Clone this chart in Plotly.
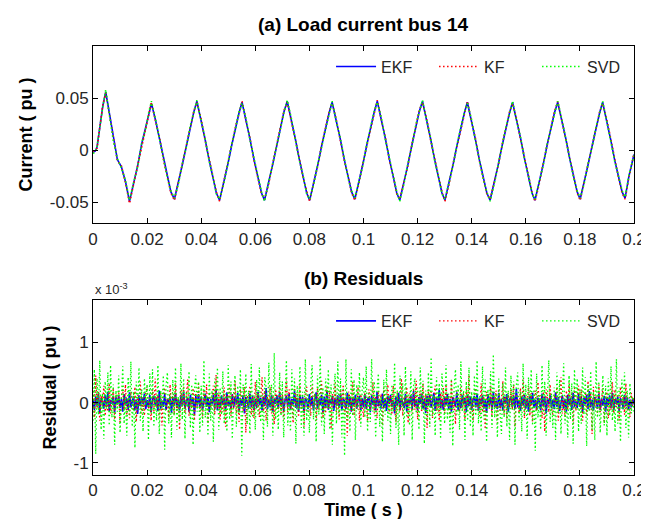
import plotly.graph_objects as go
from plotly.subplots import make_subplots

# ---------------- (a) Load current bus 14 ----------------
time_a = [
    0.0000, 0.0008, 0.0015, 0.0025, 0.0036, 0.0047,
    0.0060, 0.0075, 0.0090, 0.0105, 0.0120, 0.0135,
    0.0150, 0.0165, 0.0180, 0.0195, 0.0206, 0.0216,
    0.0231, 0.0246, 0.0261, 0.0276, 0.0288, 0.0301,
    0.0316, 0.0331, 0.0346, 0.0361, 0.0373, 0.0384,
    0.0399, 0.0414, 0.0429, 0.0444, 0.0456, 0.0468,
    0.0483, 0.0498, 0.0513, 0.0528, 0.0540, 0.0551,
    0.0566, 0.0581, 0.0596, 0.0611, 0.0623, 0.0634,
    0.0649, 0.0664, 0.0679, 0.0694, 0.0706, 0.0718,
    0.0733, 0.0748, 0.0763, 0.0778, 0.0790, 0.0801,
    0.0816, 0.0831, 0.0846, 0.0861, 0.0873, 0.0884,
    0.0899, 0.0914, 0.0929, 0.0944, 0.0956, 0.0968,
    0.0983, 0.0998, 0.1013, 0.1028, 0.1040, 0.1051,
    0.1066, 0.1081, 0.1096, 0.1111, 0.1123, 0.1134,
    0.1149, 0.1164, 0.1179, 0.1194, 0.1206, 0.1218,
    0.1233, 0.1248, 0.1263, 0.1278, 0.1290, 0.1301,
    0.1316, 0.1331, 0.1346, 0.1361, 0.1373, 0.1384,
    0.1399, 0.1414, 0.1429, 0.1444, 0.1456, 0.1468,
    0.1483, 0.1498, 0.1513, 0.1528, 0.1540, 0.1551,
    0.1566, 0.1581, 0.1596, 0.1611, 0.1623, 0.1634,
    0.1649, 0.1664, 0.1679, 0.1694, 0.1706, 0.1718,
    0.1733, 0.1748, 0.1763, 0.1778, 0.1790, 0.1801,
    0.1816, 0.1831, 0.1846, 0.1861, 0.1873, 0.1884,
    0.1899, 0.1914, 0.1929, 0.1944, 0.1956, 0.1967,
    0.1982, 0.2000,
]

current_ekf = [
    -0.002, -0.001, 0.003, 0.022, 0.042, 0.056,
    0.036, 0.010, -0.009, -0.016, -0.030, -0.049,
    -0.032, -0.015, 0.006, 0.022, 0.035, 0.045,
    0.029, 0.011, -0.009, -0.027, -0.040, -0.047,
    -0.031, -0.013, 0.005, 0.024, 0.037, 0.047,
    0.030, 0.011, -0.009, -0.027, -0.041, -0.048,
    -0.032, -0.014, 0.005, 0.023, 0.036, 0.046,
    0.029, 0.010, -0.010, -0.028, -0.041, -0.048,
    -0.032, -0.014, 0.004, 0.023, 0.037, 0.047,
    0.030, 0.011, -0.009, -0.027, -0.041, -0.048,
    -0.032, -0.014, 0.005, 0.023, 0.036, 0.046,
    0.029, 0.011, -0.009, -0.027, -0.040, -0.047,
    -0.031, -0.013, 0.006, 0.024, 0.037, 0.047,
    0.030, 0.011, -0.009, -0.027, -0.041, -0.048,
    -0.032, -0.014, 0.005, 0.024, 0.037, 0.047,
    0.030, 0.011, -0.009, -0.027, -0.041, -0.048,
    -0.032, -0.014, 0.005, 0.023, 0.036, 0.046,
    0.029, 0.010, -0.010, -0.028, -0.041, -0.048,
    -0.032, -0.014, 0.005, 0.023, 0.036, 0.046,
    0.029, 0.011, -0.009, -0.027, -0.041, -0.048,
    -0.032, -0.014, 0.005, 0.023, 0.036, 0.046,
    0.029, 0.011, -0.009, -0.027, -0.040, -0.047,
    -0.031, -0.013, 0.005, 0.023, 0.036, 0.046,
    0.029, 0.010, -0.010, -0.027, -0.040, -0.046,
    -0.024, -0.004,
]

current_kf = [
    -0.001, 0.000, 0.002, 0.021, 0.043, 0.055,
    0.035, 0.011, -0.010, -0.015, -0.031, -0.051,
    -0.033, -0.014, 0.005, 0.023, 0.034, 0.046,
    0.028, 0.012, -0.010, -0.026, -0.041, -0.048,
    -0.030, -0.014, 0.006, 0.023, 0.038, 0.046,
    0.031, 0.010, -0.008, -0.028, -0.040, -0.049,
    -0.031, -0.015, 0.004, 0.024, 0.035, 0.047,
    0.028, 0.011, -0.011, -0.027, -0.042, -0.047,
    -0.033, -0.013, 0.005, 0.022, 0.038, 0.046,
    0.029, 0.012, -0.008, -0.028, -0.040, -0.049,
    -0.031, -0.015, 0.006, 0.022, 0.037, 0.045,
    0.030, 0.010, -0.010, -0.026, -0.041, -0.048,
    -0.032, -0.012, 0.005, 0.025, 0.036, 0.048,
    0.029, 0.012, -0.010, -0.026, -0.042, -0.047,
    -0.031, -0.015, 0.006, 0.023, 0.038, 0.046,
    0.031, 0.010, -0.008, -0.028, -0.040, -0.049,
    -0.033, -0.013, 0.004, 0.024, 0.035, 0.047,
    0.028, 0.011, -0.011, -0.027, -0.042, -0.047,
    -0.031, -0.015, 0.006, 0.022, 0.037, 0.045,
    0.030, 0.010, -0.008, -0.028, -0.040, -0.049,
    -0.033, -0.013, 0.004, 0.024, 0.037, 0.047,
    0.028, 0.012, -0.010, -0.026, -0.041, -0.048,
    -0.030, -0.014, 0.006, 0.022, 0.037, 0.045,
    0.030, 0.011, -0.009, -0.028, -0.041, -0.047,
    -0.025, -0.003,
]

current_svd = [
    -0.003, -0.002, 0.004, 0.023, 0.041, 0.058,
    0.037, 0.009, -0.008, -0.017, -0.029, -0.048,
    -0.031, -0.016, 0.007, 0.021, 0.036, 0.047,
    0.030, 0.010, -0.008, -0.028, -0.039, -0.046,
    -0.032, -0.012, 0.004, 0.025, 0.036, 0.048,
    0.029, 0.012, -0.010, -0.026, -0.042, -0.047,
    -0.033, -0.013, 0.006, 0.022, 0.037, 0.045,
    0.030, 0.009, -0.009, -0.029, -0.040, -0.049,
    -0.031, -0.015, 0.005, 0.024, 0.036, 0.048,
    0.031, 0.010, -0.010, -0.026, -0.042, -0.047,
    -0.033, -0.013, 0.004, 0.024, 0.037, 0.047,
    0.028, 0.012, -0.008, -0.028, -0.039, -0.046,
    -0.030, -0.014, 0.007, 0.023, 0.038, 0.046,
    0.031, 0.010, -0.008, -0.028, -0.040, -0.049,
    -0.033, -0.013, 0.004, 0.025, 0.036, 0.048,
    0.029, 0.012, -0.010, -0.026, -0.042, -0.047,
    -0.031, -0.015, 0.006, 0.022, 0.037, 0.045,
    0.030, 0.009, -0.009, -0.029, -0.040, -0.049,
    -0.033, -0.013, 0.004, 0.024, 0.035, 0.047,
    0.028, 0.012, -0.010, -0.026, -0.042, -0.047,
    -0.031, -0.015, 0.006, 0.022, 0.035, 0.047,
    0.030, 0.010, -0.008, -0.028, -0.039, -0.046,
    -0.032, -0.012, 0.004, 0.024, 0.035, 0.047,
    0.028, 0.009, -0.011, -0.026, -0.039, -0.045,
    -0.023, -0.005,
]

# ---------------- (b) Residuals (values in units of 1e-3 pu) ----------------
time_b = [i * 0.0005 for i in range(401)]

residual_ekf = [
    0.05, -0.12, 0.10, -0.05, 0.15, -0.18, 0.08, 0.02, -0.10, 0.13, -0.07, 0.18, -0.14, 0.04, -0.02, 0.11, -0.16, 0.09, -0.03, 0.12,
    -0.09, 0.06, -0.15, 0.14, -0.04, 0.07, -0.12, 0.17, -0.08, 0.03, 0.10, -0.13, 0.05, -0.19, 0.12, -0.06, 0.09, -0.02, 0.15, -0.11,
    0.04, -0.08, 0.13, -0.16, 0.06, 0.11, -0.05, 0.08, -0.14, 0.20, -0.10, 0.03, -0.07, 0.14, -0.12, 0.06, -0.01, 0.10, -0.17, 0.09,
    -0.04, 0.16, -0.09, 0.05, -0.13, 0.12, -0.06, 0.18, -0.11, 0.02, 0.08, -0.15, 0.13, -0.03, 0.07, -0.20, 0.11, -0.05, 0.14, -0.08,
    0.10, -0.12, 0.04, 0.15, -0.07, 0.09, -0.16, 0.06, -0.02, 0.13, -0.10, 0.22, -0.13, 0.05, -0.09, 0.12, -0.04, 0.08, -0.14, 0.17,
    -0.06, 0.03, -0.11, 0.14, -0.08, 0.10, -0.03, 0.16, -0.15, 0.07, -0.05, 0.12, -0.18, 0.09, 0.02, -0.10, 0.15, -0.07, 0.11, -0.12,
    0.06, -0.09, 0.18, -0.04, 0.08, -0.13, 0.10, -0.06, 0.24, -0.11, 0.05, -0.08, 0.13, -0.16, 0.07, -0.02, 0.12, -0.10, 0.16, -0.05,
    0.09, -0.14, 0.04, 0.11, -0.07, 0.15, -0.12, 0.06, -0.03, 0.19, -0.09, 0.08, -0.15, 0.12, -0.05, 0.10, -0.17, 0.07, 0.03, -0.11,
    0.14, -0.06, 0.09, -0.13, 0.05, 0.17, -0.10, 0.07, -0.04, 0.13, -0.16, 0.10, -0.08, 0.20, -0.12, 0.06, -0.02, 0.11, -0.14, 0.08,
    -0.05, 0.12, -0.09, 0.15, -0.13, 0.06, 0.03, -0.11, 0.16, -0.07, 0.10, -0.15, 0.08, -0.04, 0.13, -0.10, 0.05, 0.11, -0.12, 0.07,
    -0.08, 0.14, -0.11, 0.05, 0.09, -0.16, 0.12, -0.04, 0.07, -0.13, 0.18, -0.06, 0.03, -0.10, 0.15, -0.09, 0.06, -0.14, 0.11, -0.02,
    0.13, -0.07, 0.04, -0.18, 0.10, -0.05, 0.16, -0.12, 0.08, 0.01, -0.09, 0.14, -0.15, 0.06, -0.03, 0.12, -0.11, 0.19, -0.06, 0.04,
    -0.13, 0.09, -0.02, 0.15, -0.10, 0.07, -0.17, 0.11, -0.05, 0.13, -0.08, 0.03, 0.16, -0.14, 0.08, -0.06, 0.21, -0.09, 0.05, -0.12,
    0.10, -0.04, 0.14, -0.11, 0.06, -0.15, 0.09, 0.02, -0.07, 0.17, -0.13, 0.05, -0.09, 0.12, -0.03, 0.08, -0.16, 0.13, -0.06, 0.10,
    -0.12, 0.05, 0.11, -0.08, 0.15, -0.14, 0.07, -0.03, 0.12, -0.10, 0.04, -0.17, 0.14, -0.05, 0.09, -0.12, 0.18, -0.08, 0.03, -0.11,
    0.16, -0.09, 0.06, -0.13, 0.10, -0.02, 0.14, -0.16, 0.05, 0.09, -0.07, 0.12, -0.11, 0.23, -0.08, 0.04, -0.14, 0.10, -0.05, 0.13,
    -0.10, 0.07, -0.15, 0.11, -0.04, 0.16, -0.09, 0.05, -0.12, 0.08, 0.02, -0.13, 0.15, -0.06, 0.10, -0.18, 0.07, -0.03, 0.12, -0.09,
    0.05, -0.11, 0.17, -0.07, 0.09, -0.14, 0.04, 0.12, -0.10, 0.06, -0.15, 0.13, -0.04, 0.08, -0.12, 0.16, -0.07, 0.02, -0.09, 0.14,
    -0.06, 0.10, -0.16, 0.08, -0.03, 0.13, -0.11, 0.19, -0.08, 0.05, -0.13, 0.09, 0.04, -0.10, 0.15, -0.12, 0.07, -0.05, 0.11, -0.15,
    0.08, -0.04, 0.12, -0.09, 0.16, -0.13, 0.06, -0.02, 0.10, -0.14, 0.07, 0.03, -0.11, 0.13, -0.06, 0.09, -0.12, 0.05, -0.08, 0.06,
    -0.03,
]

residual_kf = [
    0.20, -0.25, 0.45, -0.10, 0.18, -0.30, 0.12, -0.05, 0.28, -0.22, 0.08, -0.15, 0.32, -0.18, 0.05, 0.24, -0.28, 0.14, -0.08, 0.20,
    -0.35, 0.10, 0.22, -0.12, 0.30, -0.20, 0.06, -0.26, 0.18, 0.04, -0.14, 0.26, -0.32, 0.12, -0.06, 0.35, -0.18, 0.08, -0.22, 0.15,
    0.28, -0.10, 0.05, -0.30, 0.22, -0.15, 0.40, -0.08, 0.12, -0.25, 0.18, -0.38, 0.10, 0.25, -0.12, 0.06, -0.28, 0.30, -0.05, 0.15,
    -0.20, 0.32, -0.14, 0.08, -0.45, 0.20, -0.06, 0.26, -0.18, 0.12, 0.38, -0.22, 0.04, -0.10, 0.24, -0.30, 0.16, -0.08, 0.34, -0.15,
    0.10, -0.26, 0.22, -0.05, 0.30, -0.35, 0.14, -0.12, 0.05, 0.28, -0.20, 0.46, -0.10, 0.18, -0.28, 0.08, -0.16, 0.25, -0.40, 0.12,
    -0.06, 0.30, -0.22, 0.15, -0.10, 0.36, -0.18, 0.04, -0.32, 0.22, 0.08, -0.14, 0.26, -0.50, 0.12, -0.06, 0.28, -0.20, 0.10, -0.26,
    0.34, -0.08, 0.16, -0.24, 0.05, 0.42, -0.15, 0.20, -0.30, 0.10, -0.05, 0.26, -0.18, 0.12, -0.36, 0.22, 0.06, -0.12, 0.30, -0.20,
    0.14, -0.28, 0.08, 0.38, -0.16, 0.22, -0.10, 0.04, -0.34, 0.28, -0.06, 0.16, -0.24, 0.32, -0.12, 0.08, -0.40, 0.18, 0.26, -0.14,
    0.06, -0.22, 0.30, -0.08, 0.15, -0.30, 0.24, -0.12, 0.10, 0.36, -0.26, 0.05, -0.18, 0.28, -0.10, 0.20, -0.44, 0.14, -0.06, 0.32,
    -0.16, 0.10, -0.28, 0.22, -0.04, 0.30, -0.20, 0.12, -0.55, 0.18, 0.06, -0.14, 0.34, -0.22, 0.08, -0.10, 0.26, -0.30, 0.14, -0.08,
    -0.24, 0.16, 0.08, -0.30, 0.22, -0.12, 0.05, 0.34, -0.18, 0.10, -0.26, 0.20, -0.06, 0.14, -0.38, 0.25, -0.10, 0.06, 0.30, -0.16,
    0.12, -0.20, 0.28, -0.08, -0.32, 0.18, 0.04, -0.14, 0.40, -0.22, 0.10, -0.05, 0.26, -0.34, 0.15, 0.08, -0.18, 0.24, -0.12, 0.36,
    -0.28, 0.06, 0.20, -0.16, 0.32, -0.10, 0.14, -0.42, 0.22, -0.04, 0.18, -0.26, 0.10, 0.28, -0.14, 0.05, -0.30, 0.16, -0.08, 0.24,
    -0.18, 0.30, -0.06, 0.12, -0.24, 0.38, -0.12, 0.08, -0.36, 0.20, 0.04, -0.16, 0.26, -0.10, 0.14, -0.28, 0.22, -0.04, 0.46, -0.20,
    0.08, -0.30, 0.16, 0.24, -0.12, 0.06, -0.22, 0.32, -0.16, 0.10, -0.44, 0.18, 0.05, -0.10, 0.28, -0.24, 0.12, -0.06, 0.20, -0.34,
    0.26, -0.14, 0.04, 0.36, -0.20, 0.10, -0.28, 0.16, -0.08, 0.22, -0.12, 0.30, -0.40, 0.14, 0.06, -0.18, 0.24, -0.10, 0.38, -0.26,
    0.10, -0.06, 0.28, -0.22, 0.16, -0.32, 0.05, 0.20, -0.14, 0.34, -0.08, 0.12, -0.26, 0.18, -0.48, 0.22, 0.06, -0.16, 0.30, -0.10,
    -0.20, 0.14, -0.04, 0.26, -0.30, 0.10, 0.42, -0.18, 0.08, -0.24, 0.20, -0.12, 0.32, -0.06, 0.16, -0.36, 0.24, -0.14, 0.05, 0.28,
    -0.12, 0.22, -0.30, 0.08, 0.18, -0.20, 0.36, -0.10, 0.14, -0.52, 0.26, -0.06, 0.10, -0.22, 0.30, -0.16, 0.04, 0.24, -0.34, 0.12,
    0.18, -0.26, 0.06, -0.12, 0.34, -0.18, 0.22, -0.08, 0.14, -0.30, 0.26, -0.04, 0.10, -0.20, 0.32, -0.14, 0.08, -0.24, 0.16, -0.06,
    0.10,
]

residual_svd = [
    -0.30, 0.55, -0.85, 0.40, -0.20, 0.70, -0.45, 0.15, -0.60, 0.35, -0.10, 0.50, -0.38, 0.62, -0.25, 0.30, -0.70, 0.20, -0.15, 0.45,
    -0.50, 0.25, 0.60, -0.35, 0.10, -0.55, 0.42, -0.20, 0.68, -0.40, 0.18, -0.75, 0.35, -0.12, 0.58, -0.30, 0.22, -0.48, 0.40, -0.05,
    0.30, -0.62, 0.48, -0.18, 0.55, -0.40, 0.12, -0.30, 0.62, -0.52, 0.20, -0.10, 0.45, -0.78, 0.28, 0.50, -0.35, 0.15, -0.58, 0.38,
    -0.22, 0.58, -0.45, 0.10, -0.32, 0.65, -0.28, 0.40, -0.60, 0.18, -0.08, 0.52, -0.42, 0.30, -0.70, 0.22, 0.45, -0.15, 0.35, -0.50,
    0.28, -0.38, 0.70, -0.25, 0.12, -0.55, 0.48, -0.30, 0.20, -0.65, 0.40, -0.12, 0.58, -0.45, 0.25, -0.20, 0.52, -0.35, 0.15, -0.48,
    0.62, -0.28, 0.35, -0.60, 0.18, 0.45, -0.40, 0.28, -0.18, 0.55, -0.88, 0.30, -0.10, 0.48, -0.36, 0.20, -0.52, 0.64, -0.25, 0.12,
    -0.45, 0.38, -0.20, 0.58, -0.32, 0.15, -0.62, 0.42, 0.25, -0.40, 0.66, -0.15, 0.30, -0.55, 0.82, -0.28, 0.10, -0.45, 0.50, -0.22,
    0.35, -0.58, 0.20, 0.70, -0.38, 0.12, -0.48, 0.55, -0.25, 0.40, -0.68, 0.28, -0.12, 0.60, -0.42, 0.18, -0.55, 0.72, -0.30, 0.15,
    -0.50, 0.32, 0.62, -0.28, 0.15, -0.65, 0.45, -0.20, 0.78, -0.38, 0.25, -0.52, 0.40, -0.10, 0.55, -0.45, 0.30, -0.70, 0.22, 0.48,
    -0.35, 0.68, -0.20, 0.40, -0.58, 0.25, -0.88, 0.72, -0.30, 0.15, -0.48, 0.55, -0.22, 0.38, -0.62, 0.30, -0.12, 0.50, -0.40, 0.20,
    0.42, -0.25, 0.60, -0.48, 0.18, -0.32, 0.72, -0.15, 0.35, -0.58, 0.22, 0.48, -0.40, 0.10, -0.65, 0.38, -0.20, 0.55, -0.30, 0.12,
    -0.52, 0.30, -0.15, 0.66, -0.42, 0.20, -0.70, 0.45, -0.08, 0.32, -0.55, 0.60, -0.25, 0.15, -0.38, 0.52, -0.62, 0.28, 0.40, -0.18,
    0.25, -0.45, 0.58, -0.12, 0.36, -0.68, 0.20, -0.30, 0.50, -0.40, 0.75, -0.22, 0.12, -0.55, 0.42, -0.18, 0.32, -0.60, 0.48, -0.08,
    -0.35, 0.62, -0.28, 0.15, -0.50, 0.40, -0.72, 0.25, 0.55, -0.20, 0.30, -0.45, 0.68, -0.15, 0.20, -0.62, 0.35, -0.30, 0.58, -0.40,
    0.18, -0.55, 0.45, -0.22, 0.70, -0.35, 0.12, -0.48, 0.60, -0.28, 0.38, -0.65, 0.22, -0.10, 0.52, -0.42, 0.80, -0.25, 0.15, -0.58,
    0.40, -0.18, -0.52, 0.32, -0.25, 0.58, -0.40, 0.20, -0.62, 0.45, -0.12, 0.35, -0.70, 0.28, 0.50, -0.30, 0.18, -0.48, 0.65, -0.22,
    0.30, -0.60, 0.42, -0.15, 0.55, -0.38, 0.22, -0.80, 0.48, -0.25, 0.12, -0.45, 0.62, -0.20, 0.35, -0.55, 0.28, 0.70, -0.32, 0.15,
    -0.42, 0.25, -0.62, 0.50, -0.18, 0.38, -0.52, 0.20, 0.65, -0.35, 0.10, -0.58, 0.45, -0.28, 0.32, -0.68, 0.55, -0.12, 0.40, -0.48,
    0.22, -0.35, 0.58, -0.20, 0.42, -0.72, 0.30, -0.15, 0.52, -0.45, 0.18, -0.62, 0.68, -0.25, 0.35, -0.50, 0.12, 0.45, -0.38, 0.28,
    -0.55, 0.40, -0.22, 0.60, -0.30, 0.15, -0.48, 0.72, -0.35, 0.25, -0.65, 0.38, -0.12, 0.50, -0.42, 0.20, -0.58, 0.32, -0.18, 0.10,
    -0.15,
]

x_ticks = [0, 0.02, 0.04, 0.06, 0.08, 0.1, 0.12, 0.14, 0.16, 0.18, 0.2]
x_ticklabels = ["0", "0.02", "0.04", "0.06", "0.08", "0.1", "0.12", "0.14", "0.16", "0.18", "0.2"]
current_ticks = [-0.05, 0, 0.05]
current_ticklabels = ["-0.05", "0", "0.05"]
residual_ticks = [-1, 0, 1]
residual_ticklabels = ["-1", "0", "1"]

series_names = ["EKF", "KF", "SVD"]
series_colors = ["#0000ff", "#ff0000", "#00ff00"]
series_dash = ["solid", "1.5px,2.5px", "1.5px,2.5px"]
residual_widths = [1.6, 1.3, 1.3]

FONT = "Liberation Sans, Arial, sans-serif"
TEXT_GREY = "#262626"

fig = make_subplots(rows=2, cols=1, vertical_spacing=0.0)

for name, col, dash, vals in zip(series_names, series_colors, series_dash,
                                 [current_ekf, current_kf, current_svd]):
    fig.add_trace(go.Scatter(x=time_a, y=vals, mode="lines", name=name,
                             line=dict(color=col, width=1.6, dash=dash),
                             legend="legend"), row=1, col=1)

for name, col, dash, w, vals in zip(series_names, series_colors, series_dash, residual_widths,
                                    [residual_ekf, residual_kf, residual_svd]):
    fig.add_trace(go.Scatter(x=time_b, y=vals, mode="lines", name=name,
                             line=dict(color=col, width=w, dash=dash),
                             legend="legend2"), row=2, col=1)

axis_common = dict(showline=True, linecolor="black", linewidth=1, mirror="ticks",
                   ticks="inside", ticklen=5, tickcolor="black", showgrid=False,
                   zeroline=False, ticklabeloverflow="allow",
                   tickfont=dict(family=FONT, size=17, color=TEXT_GREY))

label_font = dict(family=FONT, size=18, color="black")
title_font = dict(family=FONT, size=19, color="black")

fig.update_xaxes(**axis_common, range=[0, 0.2], tickvals=x_ticks, ticktext=x_ticklabels)
fig.update_xaxes(domain=[0, 1], row=1, col=1)
fig.update_xaxes(domain=[0, 1], row=2, col=1,
                 title=dict(text="<b>Time ( s )</b>", font=label_font, standoff=3))

fig.update_yaxes(**axis_common)
fig.update_yaxes(domain=[0.587, 1.0], range=[-0.07, 0.1], tickvals=current_ticks,
                 ticktext=current_ticklabels, row=1, col=1,
                 title=dict(text="<b>Current ( pu )</b>", font=label_font, standoff=12))
fig.update_yaxes(domain=[0.0, 0.408], range=[-1.2, 1.7], tickvals=residual_ticks,
                 ticktext=residual_ticklabels, row=2, col=1,
                 title=dict(text="<b>Residual ( pu )</b>", font=label_font, standoff=12))

legend_common = dict(orientation="h", xanchor="left", yanchor="middle",
                     bgcolor="rgba(0,0,0,0)", borderwidth=0,
                     font=dict(family=FONT, size=16, color=TEXT_GREY),
                     entrywidth=48, entrywidthmode="pixels", itemwidth=40)

fig.update_layout(
    width=649, height=519,
    margin=dict(l=85, r=11, t=38, b=52),
    paper_bgcolor="white", plot_bgcolor="white",
    showlegend=True,
    legend=dict(**legend_common, x=0.44, y=0.952),
    legend2=dict(**legend_common, x=0.44, y=0.359),
    annotations=[
        dict(text="<b>(a) Load current bus 14</b>", x=0.5, y=1.0, xref="paper", yref="paper",
             xanchor="center", yanchor="bottom", yshift=9, showarrow=False,
             font=title_font),
        dict(text="<b>(b) Residuals</b>", x=0.5, y=0.408, xref="paper", yref="paper",
             xanchor="center", yanchor="bottom", yshift=9, showarrow=False,
             font=title_font),
        dict(text="x 10<sup>-3</sup>", x=0.0, y=0.408, xref="paper", yref="paper",
             xanchor="left", yanchor="bottom", yshift=1, showarrow=False,
             font=dict(family=FONT, size=13, color=TEXT_GREY)),
    ],
)

fig.write_html("out.html")
